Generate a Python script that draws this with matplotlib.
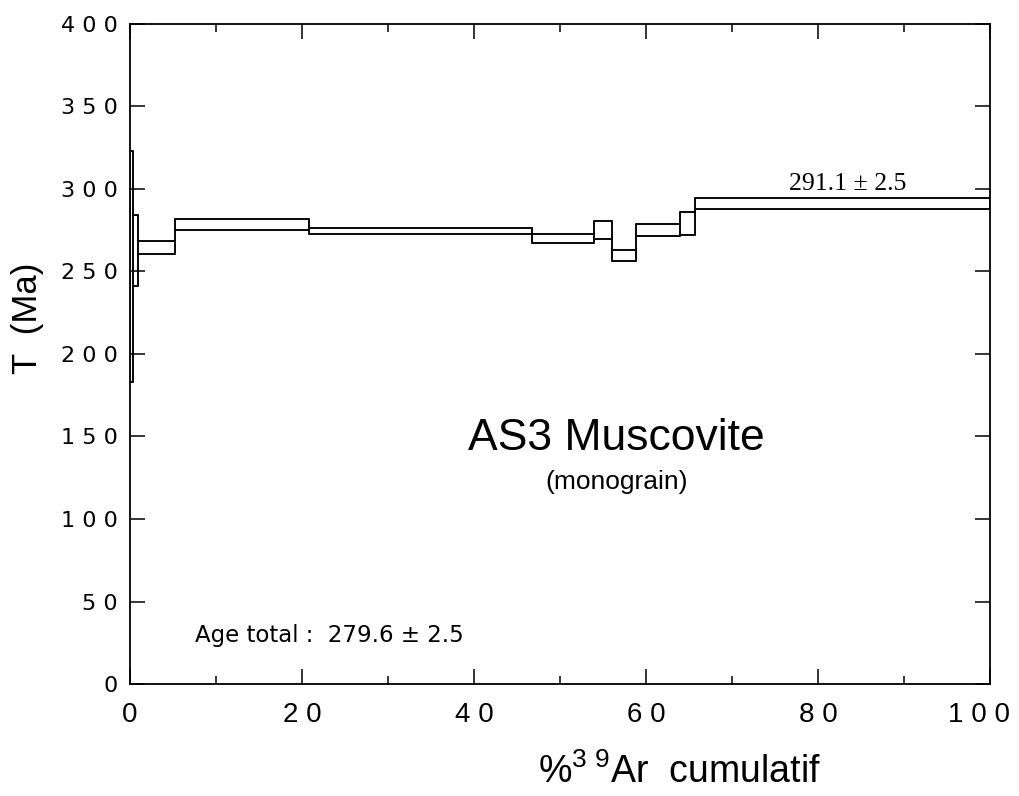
import matplotlib
matplotlib.use("Agg")
import matplotlib.pyplot as plt
from matplotlib.patches import Rectangle
from matplotlib import font_manager, transforms

# Spectre d'age 39Ar/40Ar - paliers de degazage
cum39 = [0.0, 0.3, 0.93, 5.2, 20.8, 46.7, 54.0, 56.0, 58.8, 64.0, 65.7, 100.0]
age = [253.0, 262.5, 264.6, 278.6, 274.4, 270.0, 275.3, 259.8, 275.3, 279.1, 291.1]
err = [70.0, 21.5, 4.1, 3.4, 1.8, 2.7, 5.4, 3.4, 3.5, 7.2, 3.3]

plateau_age = 291.1
plateau_err = 2.5
total_age = 279.6
total_err = 2.5

xticks = [0, 20, 40, 60, 80, 100]
yticks = [0, 50, 100, 150, 200, 250, 300, 350, 400]

noms = {f.name for f in font_manager.fontManager.ttflist}
narrow = "Liberation Sans Narrow" if "Liberation Sans Narrow" in noms else "Liberation Sans"

plt.rcParams["mathtext.fontset"] = "custom"
plt.rcParams["mathtext.rm"] = narrow

fig = plt.figure(figsize=(10.19, 7.96), dpi=100)
ax = fig.add_axes([130 / 1019, 112 / 796, 860 / 1019, 660 / 796])

# boites de chaque palier
haut = [a + e for a, e in zip(age, err)]
bas = [a - e for a, e in zip(age, err)]
for i in range(len(age)):
    r = Rectangle((cum39[i], bas[i]), cum39[i + 1] - cum39[i], haut[i] - bas[i],
                  fill=False, edgecolor="black", linewidth=1.1)
    ax.add_patch(r)

# raccords entre paliers (courbes en escalier haut et bas)
ax.step(cum39, haut + [haut[-1]], where="post", color="black", lw=1.1)
ax.step(cum39, bas + [bas[-1]], where="post", color="black", lw=1.1)

ax.set_xlim(0, 100)
ax.set_ylim(0, 400)
ax.set_xticks(xticks)
ax.set_xticks(range(10, 100, 20), minor=True)
ax.set_yticks(yticks)
ax.set_xticklabels([" ".join(str(v)) for v in xticks], family=narrow, fontsize=20)
ax.set_yticklabels([" ".join(str(v)) for v in yticks], family="DejaVu Sans", fontsize=16)
ax.tick_params(which="major", direction="in", length=11, width=1.1,
               top=True, right=True, pad=9)
ax.tick_params(axis="x", which="major", pad=13)
ax.tick_params(which="minor", direction="in", length=6, width=1.1, top=True)
for s in ax.spines.values():
    s.set_linewidth(1.3)

# le dernier label "100" est un peu decale vers la gauche
dernier = ax.get_xticklabels()[-1]
dernier.set_transform(dernier.get_transform() +
                      transforms.ScaledTranslation(-0.11, 0, fig.dpi_scale_trans))

ax.text(83.4, 299.4, "%.1f ± %.1f" % (plateau_age, plateau_err),
        family="Liberation Serif", fontsize=18.5, ha="center", va="baseline")
ax.text(56.6, 142, "AS3 Muscovite", family="Liberation Sans", fontsize=32,
        ha="center", va="baseline")
ax.text(56.6, 118, "(monograin)", family="Liberation Sans", fontsize=19,
        ha="center", va="baseline")
ax.text(7.6, 25.5, "Age total :  %.1f ± %.1f" % (total_age, total_err),
        family="DejaVu Sans", fontsize=16.5, ha="left", va="baseline")

fig.text(679 / 1019, 13 / 796, r"%$^{\mathrm{3\ 9}}$Ar  cumulatif", family=narrow,
         fontsize=27, ha="center", va="baseline")
fig.text(28 / 1019, 1 - 318 / 796, "T  (Ma)", family="Liberation Sans", fontsize=25,
         rotation=90, ha="center", va="center")

fig.savefig("out.png", dpi=100)
